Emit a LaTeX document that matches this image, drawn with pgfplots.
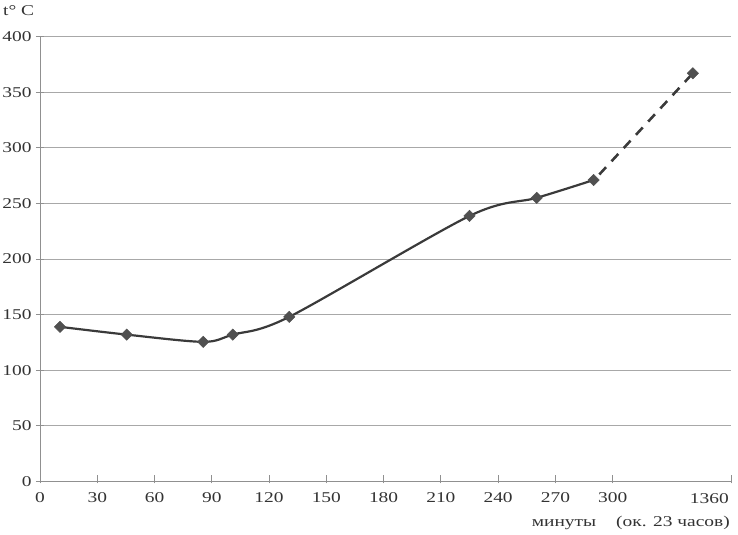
\documentclass[border=0pt]{standalone}
\usepackage{fontspec}
\setmainfont{Liberation Serif}[FakeStretch=1.3]
\usepackage{pgfplots}
\pgfplotsset{compat=1.18}
\definecolor{gridc}{HTML}{A8A8A8}
\definecolor{axc}{HTML}{909090}
\definecolor{linec}{HTML}{3A3A3A}
\definecolor{markc}{HTML}{505050}
\begin{document}
\begin{tikzpicture}
\begin{axis}[
  scale only axis,
  width=691bp, height=444.8bp,
  xmin=0, xmax=362, ymin=0, ymax=400,
  axis lines*=left,
  axis line style={axc, line width=1pt},
  xtick={0,30,60,90,120,150,180,210,240,270,300,362},
  xticklabels={0,30,60,90,120,150,180,210,240,270,300,{}},
  ytick={0,50,...,400},
  ymajorgrids,
  grid style={gridc, line width=1pt},
  tick align=center,
  major tick length=8bp,
  tick style={axc, line width=1pt},
  xtick style={yshift=2bp},
  ticklabel style={font=\fontsize{15}{16}\selectfont, text=black!80},
  /pgf/number format/assume math mode=true,
  xticklabel style={yshift=-4bp},
  yticklabel style={xshift=-1bp},
  clip=false,
]
\addplot[linec, line width=2.2pt, smooth, tension=0.5,
  mark=square*, mark size=4bp, mark options={markc, fill=markc, solid, rotate=45, line width=0.5pt}]
  coordinates {(10.5,139) (45.4,132) (85.5,125.5) (101,132) (130.6,148) (225,238.7) (260.2,255) (290,271)};
\addplot[linec, line width=2.6pt, dash pattern=on 10bp off 8bp,
  mark=square*, mark size=4bp, mark options={markc, fill=markc, solid, rotate=45, line width=0.5pt},
  mark indices={2}]
  coordinates {(293,276) (342,367)};
\node[anchor=north east, font=\fontsize{15}{16}\selectfont, text=black!80, inner sep=0pt] at (axis cs:362,0) [xshift=-2bp, yshift=-12bp] {1360};
\node[anchor=north west, font=\fontsize{15}{16}\selectfont, text=black!80, inner sep=0pt] at (rel axis cs:0,1) [xshift=-37bp, yshift=31.5bp] {t\textdegree{} C};
\node[anchor=north east, font=\fontsize{15}{16}\selectfont, text=black!80, inner sep=0pt] at (rel axis cs:1,0) [xshift=-1bp, yshift=-35bp] {минуты\hspace{20bp}(ок. 23 часов)};
\coordinate (LL) at (rel axis cs:0,0);
\coordinate (UR) at (rel axis cs:1,1);
\end{axis}
\pgfresetboundingbox
\path[use as bounding box] ([xshift=-40bp, yshift=-53.6bp]LL) rectangle ([xshift=7bp, yshift=36.6bp]UR);
\end{tikzpicture}
\end{document}
